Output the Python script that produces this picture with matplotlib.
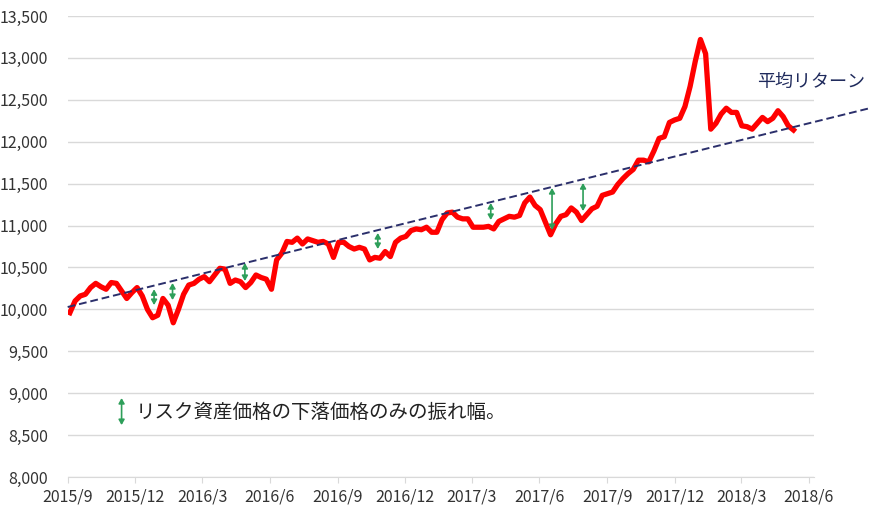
import pandas as pd
import matplotlib.pyplot as plt
import matplotlib.ticker as mticker

plt.rcParams['font.family'] = ['Noto Sans CJK JP', 'DejaVu Sans']

# weekly index level (fridays)
start_date = '2015-09-04'
values = [9960, 10100, 10160, 10180, 10260, 10310, 10270, 10240, 10320, 10310,
          10220, 10130, 10200, 10260, 10160, 10000, 9900, 9930, 10130, 10050,
          9840, 10000, 10180, 10290, 10310, 10360, 10390, 10330, 10410, 10490,
          10480, 10310, 10350, 10330, 10260, 10320, 10410, 10380, 10360, 10240,
          10590, 10670, 10810, 10800, 10850, 10780, 10840, 10820, 10800, 10810,
          10780, 10620, 10800, 10800, 10750, 10720, 10740, 10720, 10590, 10620,
          10610, 10690, 10630, 10800, 10850, 10870, 10940, 10960, 10950, 10980,
          10920, 10920, 11070, 11150, 11160, 11100, 11080, 11080, 10980, 10980,
          10980, 10990, 10960, 11050, 11080, 11110, 11100, 11120, 11270, 11340,
          11240, 11190, 11040, 10890, 11020, 11110, 11130, 11210, 11160, 11060,
          11130, 11200, 11230, 11360, 11380, 11400, 11490, 11560, 11620, 11670,
          11780, 11780, 11760, 11890, 12040, 12060, 12230, 12260, 12280, 12420,
          12660, 12960, 13220, 13050, 12150, 12220, 12330, 12400, 12350, 12350,
          12190, 12180, 12150, 12220, 12290, 12240, 12280, 12370, 12300, 12190,
          12140]
dates = pd.date_range(start_date, periods=len(values), freq='7D')

# average return line
trend_dates = [pd.Timestamp('2015-09-01'), pd.Timestamp('2018-08-23')]
trend_values = [10028, 12402]

# downside swings (date, top, bottom)
swing_dates = ['2015-12-27', '2016-01-21', '2016-04-28', '2016-10-25',
               '2017-03-27', '2017-06-18', '2017-07-30']
swing_top = [10240, 10314, 10553, 10911, 11269, 11448, 11507]
swing_bottom = [10051, 10111, 10338, 10720, 11066, 10946, 11173]

tick_dates = ['2015-09-01', '2015-12-01', '2016-03-01', '2016-06-01',
              '2016-09-01', '2016-12-01', '2017-03-01', '2017-06-01',
              '2017-09-01', '2017-12-01', '2018-03-01', '2018-06-01']
tick_labels = ['2015/9', '2015/12', '2016/3', '2016/6', '2016/9', '2016/12',
               '2017/3', '2017/6', '2017/9', '2017/12', '2018/3', '2018/6']

green = '#2E9F5A'
grid = '#D9D9D9'
txt = '#333333'
arrow = '<|-|>,head_length=0.3,head_width=0.17'

fig = plt.figure(figsize=(8.7, 5.12), dpi=100)
ax = fig.add_axes([0.0778, 0.0684, 0.858, 0.9003])

ax.plot(dates, values, color='#FF0000', lw=3.8, solid_joinstyle='round', zorder=3)
ax.plot(trend_dates, trend_values, color='#2B2F6B', lw=1.4, ls=(0, (4, 2)),
        clip_on=False, zorder=4)

for d, top, bot in zip(swing_dates, swing_top, swing_bottom):
    ax.annotate('', xy=(pd.Timestamp(d), bot), xytext=(pd.Timestamp(d), top),
                arrowprops=dict(arrowstyle=arrow, color=green, lw=1.2,
                                shrinkA=0, shrinkB=0), zorder=5)

# legend for arrows
ax.annotate('', xy=(pd.Timestamp('2015-11-13'), 8619), xytext=(pd.Timestamp('2015-11-13'), 8942),
            arrowprops=dict(arrowstyle=arrow, color=green, lw=1.2, shrinkA=0, shrinkB=0))
ax.text(pd.Timestamp('2015-12-02'), 8775, 'リスク資産価格の下落価格のみの振れ幅。',
        fontsize=14, color='#222222', va='center', ha='left')

ax.text(pd.Timestamp('2018-03-23'), 12712, '平均リターン', fontsize=13,
        color='#1F2A5C', va='center', ha='left', clip_on=False)

ax.set_ylim(8000, 13500)
ax.set_yticks(range(8000, 14000, 500))
ax.yaxis.set_major_formatter(mticker.FuncFormatter(lambda v, p: f'{int(v):,}'))
ax.set_xlim(pd.Timestamp('2015-09-01'), pd.Timestamp('2018-06-08'))
ax.set_xticks([pd.Timestamp(t) for t in tick_dates])
ax.set_xticklabels(tick_labels)

ax.grid(axis='y', color=grid, lw=1)
ax.set_axisbelow(True)
for s in ['top', 'right', 'left']:
    ax.spines[s].set_visible(False)
ax.spines['bottom'].set_color(grid)
ax.tick_params(axis='y', length=0, pad=14, labelsize=11.5, labelcolor=txt)
ax.tick_params(axis='x', length=4, color=grid, pad=4, labelsize=11.5, labelcolor=txt)

plt.savefig('out.png', dpi=100)
